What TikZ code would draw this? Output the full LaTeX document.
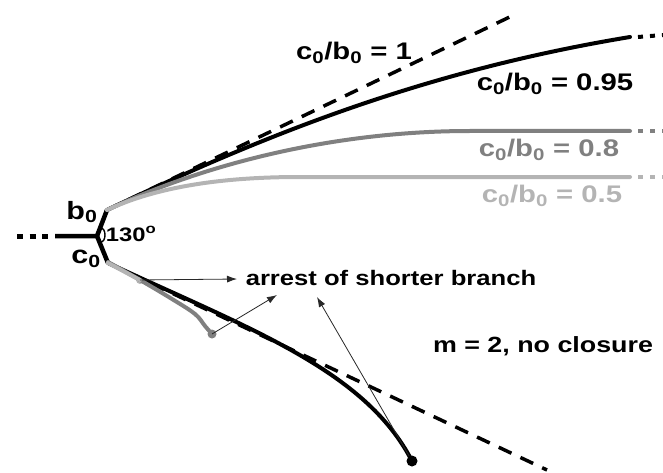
\documentclass[tikz,border=0pt]{standalone}
\usepackage{fontspec}
\setmainfont{Liberation Sans}[FakeStretch=1.22]
\usetikzlibrary{arrows.meta,positioning,calc}
\definecolor{RatioGray}{RGB}{128,128,128}
\definecolor{RatioLight}{RGB}{180,180,180}
\definecolor{PointerGray}{RGB}{40,40,40}
\tikzset{
  branch/.style={line width=4.5pt,line cap=butt,line join=round},
  crack/.style={line width=4pt,line cap=round},
  tangent/.style={line width=3.5pt,dash pattern=on 14pt off 10pt},
  tail/.style={line width=5pt,dash pattern=on 6pt off 6.5pt},
  endtail/.style={line width=4pt,dash pattern=on 5pt off 7pt},
  ratio/.style={font=\fontsize{24}{27}\selectfont\bfseries,inner sep=0pt},
  note/.style={font=\fontsize{21}{25}\selectfont\bfseries,inner sep=0pt},
  side/.style={font=\fontsize{25}{28}\selectfont\bfseries,inner sep=0pt},
  pointer/.style={-{Latex[length=10pt,width=7pt]},line width=0.8pt,PointerGray},
  stopdot/.style={circle,inner sep=0pt,minimum size=#1}
}

\begin{document}
\begin{tikzpicture}[x=1pt,y=-1pt]
  \useasboundingbox (0,0) rectangle (663,473);
  % junction and initial branches
  \coordinate (vertex) at (97,236);
  \coordinate (btip) at (107,210);
  \coordinate (ctip) at (108,263);
  \coordinate (stem) at (55,236);
  \coordinate (stemend) at (17,236);
  \draw[line width=1.4pt] (101,235) ellipse[x radius=4,y radius=7];
  \draw[branch] (stem) -- (vertex) -- (btip);
  \draw[branch] (vertex) -- (ctip);
  \draw[tail] (stemend) -- (50,236);
  \node[side] (blabel) at (82,212) {b\textsubscript{0}};
  \node[side] (clabel) at (86,259) {c\textsubscript{0}};
  \node[font=\fontsize{19.5}{22}\selectfont\bfseries,inner sep=0pt] (angle) at (131,234) {130\textsuperscript{o}};

  % upper branch, one curve per ratio
  \coordinate (up1) at (518,13);
  \coordinate (up95) at (630,37);
  \coordinate (up8) at (630,131);
  \coordinate (up5) at (630,177);
  \draw[tangent] (btip) -- (up1);
  \draw[crack] (btip) .. controls (270,132) and (430,70) .. (up95);
  \draw[crack,RatioGray] (btip) .. controls (200,166) and (330,131) .. (470,131) -- (up8);
  \draw[crack,RatioLight] (btip) .. controls (150,190) and (210,177) .. (300,177) -- (up5);
  \draw[endtail] (up95) ++(8,0) -- (663,35);
  \draw[endtail,RatioGray] (up8) ++(8,0) -- (663,131);
  \draw[endtail,RatioLight] (up5) ++(8,0) -- (663,177);
  \node[ratio] (r1) at (354,53) {c\textsubscript{0}/b\textsubscript{0} = 1};
  \node[ratio] (r95) at (555,84) {c\textsubscript{0}/b\textsubscript{0} = 0.95};
  \node[ratio,RatioGray] (r8) at (549,150) {c\textsubscript{0}/b\textsubscript{0} = 0.8};
  \node[ratio,RatioLight] (r5) at (552,196) {c\textsubscript{0}/b\textsubscript{0} = 0.5};

  % lower branch, arrested
  \coordinate (low1) at (547,470);
  \node[stopdot=11pt,fill=black] (stop95) at (412,461) {};
  \node[stopdot=9pt,fill=RatioGray] (stop8) at (212,334) {};
  \node[stopdot=8pt,fill=RatioLight] (stop5) at (140,280) {};
  \draw[tangent] (ctip) -- (low1);
  \draw[crack] (ctip) .. controls (250,329) and (365,370) .. (stop95.center);
  \draw[crack,RatioGray] plot[smooth,tension=0.6] coordinates {(108,262) (140,280) (172,299) (195,314) (205,326) (212,334)};
  \draw[crack,RatioLight] (ctip) -- (stop5.center);

  % annotations
  \node[note] (arrest) at (391,278) {arrest of shorter branch};
  \node[font=\fontsize{22}{26}\selectfont\bfseries,inner sep=0pt] (closure) at (543,346) {m = 2, no closure};
  \coordinate (arrow5) at (237,279);
  \coordinate (arrow8) at (277,295);
  \coordinate (arrow95) at (317,297);
  \draw[pointer] (stop5.center) -- (arrow5);
  \draw[pointer] (stop8.center) -- (arrow8);
  \draw[pointer] (stop95) -- (arrow95);
\end{tikzpicture}
\end{document}
